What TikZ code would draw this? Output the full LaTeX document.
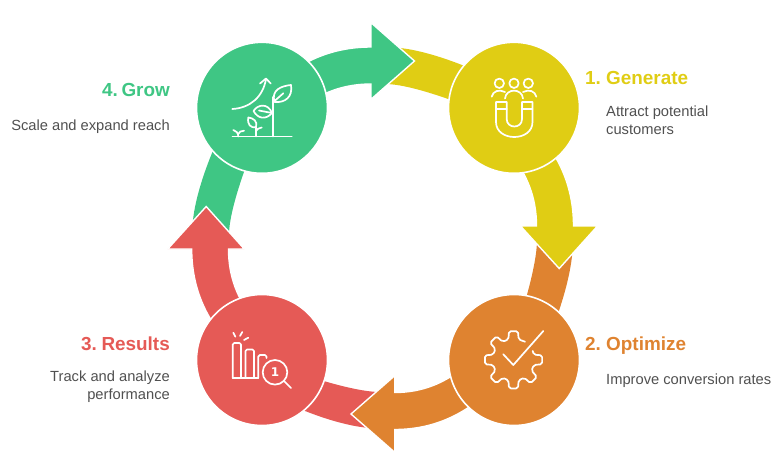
\documentclass[tikz,border=0pt]{standalone}
\usepackage{xcolor}
\usepackage{fontspec}
\setmainfont{Liberation Sans}
\newfontfamily\lensfont{DejaVu Sans}

\definecolor{cyellow}{HTML}{E0CD14}
\definecolor{cgreen}{HTML}{3FC684}
\definecolor{corange}{HTML}{DF8330}
\definecolor{cred}{HTML}{E55A56}
\definecolor{cbody}{HTML}{505050}

\begin{document}
\begin{tikzpicture}[x=1pt,y=-1pt,
    arm/.style={draw=white,line width=1.4pt,line join=miter},
    hub/.style={circle,draw=white,line width=1.6pt,minimum size=131pt,inner sep=0pt},
    icon/.style={draw=white,line width=1.7pt,line cap=round,line join=round},
    heading/.style={font=\fontsize{18.9}{20}\bfseries\selectfont,inner sep=0pt,text height=13pt,text depth=0pt},
    body/.style={font=\fontsize{14.7}{18}\selectfont,text=cbody,inner sep=0pt}]

    \useasboundingbox (0,0) rectangle (784,471);

    \fill[cyellow] (385,47) .. controls (411.7,47) and (446.7,57) .. (490,77) -- (470,107) .. controls (430,91.7) and (401.7,84) .. (385,84) -- cycle;
    \fill[corange] (573,240) .. controls (573,266.7) and (564,301.7) .. (546,345) -- (518,325) .. controls (530.7,285) and (537,256.7) .. (537,240) -- cycle;
    \fill[cred] (380,428.5) .. controls (353.3,428.5) and (318.3,418.3) .. (275,398) -- (295,372) .. controls (335,385.3) and (363.3,392) .. (380,392) -- cycle;
    \fill[cgreen] (192,235) .. controls (192,208.3) and (202,173.3) .. (222,130) -- (252,150) .. controls (236.7,190) and (229,218.3) .. (229,235) -- cycle;

    \draw[arm,fill=cgreen] (281,79.8) .. controls (307,57.9) and (337,47) .. (371,47) -- (371,22.7) -- (414.5,61) -- (371,99.3) -- (371,84) .. controls (343.8,84) and (319.8,92.7) .. (299,110.2) -- cycle;
    \draw[arm,fill=cyellow] (540.4,135.8) .. controls (562.5,161.8) and (573.5,191.9) .. (573.5,226) -- (597.5,226) -- (559.2,268.5) -- (520.5,226) -- (536.5,226) .. controls (536.5,198.7) and (527.7,174.6) .. (510,153.8) -- cycle;
    \draw[arm,fill=corange] (484.4,395.2) .. controls (458.4,418.1) and (428.5,429.5) .. (394.7,429.5) -- (394.7,452.3) -- (351,414) -- (394.7,375.7) -- (394.7,392.5) .. controls (421.7,392.5) and (445.6,383.3) .. (466.4,364.8) -- cycle;
    \draw[arm,fill=cred] (225,339.2) .. controls (202.8,313.2) and (191.7,283.1) .. (191.7,249) -- (167.7,249) -- (206.2,206.5) -- (244.3,249) -- (228.5,249) .. controls (228.5,276.3) and (237.5,300.4) .. (255.4,321.2) -- cycle;

    \node[hub,fill=cgreen] (grow) at (262,107.8) {};
    \node[hub,fill=cyellow] (generate) at (514,107.8) {};
    \node[hub,fill=corange] (optimize) at (514,360) {};
    \node[hub,fill=cred] (results) at (262,360) {};

    \draw[icon] (499.3,83.3) circle (4.7pt);
    \draw[icon] (514,83.3) circle (4.7pt);
    \draw[icon] (528.3,83.3) circle (4.7pt);
    \draw[icon] (491.7,96.7) .. controls (493,91) and (499,89) .. (505,92);
    \draw[icon] (536.3,96.7) .. controls (535,91) and (529,89) .. (523,92);
    \draw[icon] (505,98.5) .. controls (506,88) and (522,88) .. (523,98.5);
    \draw[icon] (496,102) -- (506.7,102) -- (506.7,119) .. controls (506.7,129) and (522,129) .. (522,119) -- (522,102) -- (532.5,102) -- (532.5,122) .. controls (532.5,142) and (496,142) .. (496,122) -- cycle;
    \draw[icon] (496,109.3) -- (506.7,109.3);
    \draw[icon] (522,109.3) -- (532.5,109.3);

    \draw[icon] (232.5,136.5) -- (291.7,136.5);
    \draw[icon] (273.3,136.5) -- (273.3,97);
    \draw[icon] (274.5,102) .. controls (271,90) and (281,86) .. (291,85) .. controls (293,97) and (285,103) .. cycle;
    \draw[icon] (274.5,101) -- (283.3,93.3);
    \draw[icon] (253.5,111) .. controls (258,104) and (268,103) .. (272,113) .. controls (266,120) and (258,119) .. cycle;
    \draw[icon] (259,110.5) -- (272,113);
    \draw[icon] (248.3,117.5) .. controls (247,125) and (251,128) .. (256,127.3) .. controls (258,121) and (253,118) .. cycle;
    \draw[icon] (256,127.3) -- (256,136.5);
    \draw[icon] (256,131) .. controls (257,129) and (259,128) .. (261.7,127.5);
    \draw[icon] (233.3,130) .. controls (236,130.5) and (238.3,133) .. (238.3,136.5);
    \draw[icon] (244,130.7) .. controls (241,130.7) and (239,132) .. (238.3,134);
    \draw[icon] (232.3,109) .. controls (250,108) and (263,97) .. (266,79);
    \draw[icon] (260,83.5) -- (266,78.5) -- (270.7,83.5);

    \draw[icon,rounded corners=1.8pt] (525,341.7) -- (518.6,339.4) -- (518,331.2) -- (509,331.2) -- (508.4,339.4) -- (502.7,341.8) -- (496.5,336.3) -- (490,342.8) -- (495.5,349) -- (493.1,354.7) -- (484.9,355.3) -- (484.9,364.3) -- (493.1,364.9) -- (495.5,370.6) -- (490,376.9) -- (496.5,383.3) -- (502.7,377.8) -- (508.4,380.2) -- (509,388.4) -- (518,388.4) -- (518.6,380.2) -- (524.3,377.8) -- (530.6,383.3) -- (537,376.9) -- (531.5,370.6) -- (533.9,364.9) -- (542.1,364.3) -- (542.1,355.3) -- (533.9,354.7) -- (532.7,351);
    \draw[icon] (503.3,354.3) -- (513.3,365) -- (543.3,331);

    \draw[icon] (233.3,332.7) -- (235.3,336.7);
    \draw[icon] (242.3,332) -- (240,336);
    \draw[icon] (248.3,337.7) -- (244,340);
    \draw[icon,rounded corners=1.5pt] (232.7,378) -- (232.7,343) -- (241,343) -- (241,378);
    \draw[icon,rounded corners=1.5pt] (245.5,378) -- (245.5,349.5) -- (254,349.5) -- (254,378);
    \draw[icon,rounded corners=1.5pt] (258.3,378) -- (258.3,355) -- (266.5,355) -- (266.5,358);
    \draw[icon] (232.7,378) -- (258.3,378);
    \draw[icon] (275,372.3) circle (12.3pt);
    \draw[icon] (284,381) -- (291,388);
    \node[font=\fontsize{12}{12}\lensfont\bfseries\selectfont,text=white,inner sep=0pt] (lens) at (275,372.3) {1};

    \node[heading,text=cyellow,anchor=west] (generate_num) at (585,78) {1.};
    \node[heading,text=cyellow,anchor=west] (generate_title) at (606,78) {Generate};
    \node[body,anchor=west,align=left] (generate_text) at (606,120) {Attract potential\\customers};

    \node[heading,text=corange,anchor=west] (optimize_num) at (585,344) {2.};
    \node[heading,text=corange,anchor=west] (optimize_title) at (606,344) {Optimize};
    \node[body,anchor=west] (optimize_text) at (606,380.5) {Improve conversion rates};

    \node[heading,text=cred,anchor=east] (results_title) at (170,344) {Results};
    \node[heading,text=cred,anchor=west] (results_num) at (81,344) {3.};
    \node[body,anchor=east,align=right] (results_text) at (170,386.5) {Track and analyze\\performance};

    \node[heading,text=cgreen,anchor=east] (grow_title) at (170,90) {Grow};
    \node[heading,text=cgreen,anchor=west] (grow_num) at (102,90) {4.};
    \node[body,anchor=east] (grow_text) at (170,126.5) {Scale and expand reach};

\end{tikzpicture}
\end{document}
